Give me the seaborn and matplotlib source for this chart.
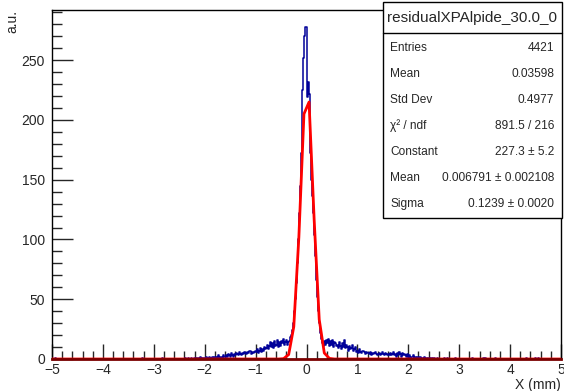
import numpy as np
import pandas as pd
import matplotlib
matplotlib.use("Agg")
import matplotlib.pyplot as plt
import seaborn as sns
from matplotlib.patches import Rectangle
from matplotlib.ticker import MultipleLocator

# histogram: 500 bins over [-5, 5]; explicit counts for -2.40 .. 2.60
start = -2.40
left_tail = [0, 1, 0, 0, 1, 0, 0, 1, 0, 1,
             1, 0, 1, 1, 0, 2, 1, 0, 1, 1,
             1, 2, 1, 0, 2, 1, 1, 2, 1, 2,
             2, 1, 2, 3, 1, 2, 2, 1, 3, 2,
             2, 3, 2, 4, 3, 2, 5, 3, 2, 4,
             3, 5, 4, 3, 6, 4, 3, 5, 4, 6,
             5, 4, 6, 5, 7, 4, 6, 5, 6, 7,
             6, 8, 5, 7, 9, 6, 8, 7, 10, 8,
             9, 12, 8, 11, 14, 10, 13, 9, 15, 11,
             12, 16, 10, 14, 11, 15, 13, 17, 12, 14]
core = [16, 12, 14, 15, 18, 20, 24, 30, 40, 50,
        64, 80, 100, 122, 145, 172, 225, 252, 270, 278,
        219, 232, 222, 172, 150, 136, 122, 104, 86, 66,
        52, 40, 30, 22, 17, 13, 11, 15, 12, 16]
right_tail = [13, 17, 11, 15, 12, 16, 10, 14, 13, 11,
              12, 9, 14, 11, 8, 13, 10, 16, 9, 12,
              10, 7, 11, 8, 9, 12, 7, 8, 10, 6,
              7, 5, 8, 6, 5, 7, 6, 4, 6, 5,
              5, 4, 6, 3, 5, 4, 5, 6, 4, 3,
              4, 5, 3, 4, 6, 4, 3, 5, 4, 3,
              4, 3, 5, 3, 4, 6, 3, 4, 2, 5,
              3, 6, 4, 2, 5, 3, 4, 3, 2, 4,
              2, 3, 1, 2, 2, 3, 1, 2, 1, 2,
              1, 2, 1, 1, 0, 2, 1, 1, 0, 1,
              1, 0, 1, 0, 1, 1, 0, 0, 1, 0]
# single entries far out in the tails (bin centres)
lone_entries = [-4.93, -3.23, -2.83, 2.71, 2.77, 2.93, 3.27, 3.47, 3.51,
                3.71, 4.33, 4.49, 4.55]

# gaussian fit as drawn (polyline vertices)
fit_x = [-5.0, -0.55, -0.45, -0.35, -0.25, -0.15, -0.05, 0.05, 0.15, 0.25,
         0.35, 0.45, 0.55, 5.0]
fit_y = [0.0, 0.0, 0.3, 3.7, 27.0, 102.0, 205.0, 215.0, 117.0, 33.0,
         5.0, 0.5, 0.0, 0.0]

stats_title = "residualXPAlpide_30.0_0"
stats_names = ["Entries", "Mean", "Std Dev", "\u03c7\u00b2 / ndf", "Constant",
               "Mean", "Sigma"]
stats_values = ["4421", "0.03598", "0.4977", "891.5 / 216", "227.3 \u00b1 5.2",
                "0.006791 \u00b1 0.002108", "0.1239 \u00b1 0.0020"]

edges = np.linspace(-5, 5, 501)
centers = (edges[:-1] + edges[1:]) / 2
counts = np.zeros(len(centers))
central = left_tail + core + right_tail
i0 = int(round((start + 5) / 0.02))
counts[i0:i0 + len(central)] = central
for c in lone_entries:
    counts[np.argmin(np.abs(centers - c))] += 1
df = pd.DataFrame({"x": centers, "n": counts})

sns.set_style("white")
plt.rcParams["font.family"] = ["Liberation Sans", "DejaVu Sans"]

fig = plt.figure(figsize=(5.64, 3.91), dpi=100)
ax = fig.add_axes([52 / 564, 32 / 391, 509 / 564, 349 / 391])

sns.histplot(data=df, x="x", weights="n", binwidth=0.02, binrange=(-5, 5),
             element="step", fill=False, color="#000099", linewidth=1.1, ax=ax)
sns.lineplot(x=fit_x, y=fit_y, color="red", linewidth=2.0, sort=False,
             ax=ax, zorder=3)

ax.set_xlim(-5, 5)
ax.set_ylim(0, 292)
ax.xaxis.set_major_locator(MultipleLocator(1))
ax.xaxis.set_minor_locator(MultipleLocator(0.2))
ax.yaxis.set_major_locator(MultipleLocator(50))
ax.yaxis.set_minor_locator(MultipleLocator(10))
ax.tick_params(axis="x", which="major", direction="in", length=11, width=1,
               labelsize=10, pad=3, top=False, bottom=True)
ax.tick_params(axis="x", which="minor", direction="in", length=6, width=1,
               top=False, bottom=True)
ax.tick_params(axis="y", which="major", direction="in", length=15, width=1,
               labelsize=10, pad=5, right=False, left=True)
ax.tick_params(axis="y", which="minor", direction="in", length=7, width=1,
               right=False, left=True)
for s in ax.spines.values():
    s.set_color("black")
    s.set_linewidth(1)
ax.spines["bottom"].set_color("#7a0000")
ax.spines["bottom"].set_linewidth(2)
ax.spines["bottom"].set_zorder(4)

ax.set_xlabel("X (mm)", fontsize=10, loc="right")
ax.xaxis.set_label_coords(1.0, -0.055)
ax.set_ylabel("a.u.", fontsize=10, loc="top")
ax.yaxis.set_label_coords(-0.064, 1.0)

# stats box
x0, x1 = 382.5 / 564, 562 / 564
y_top, y_bot = 1 - 2 / 391, 1 - 218 / 391
fig.patches.append(Rectangle((x0, y_bot), x1 - x0, y_top - y_bot,
                             transform=fig.transFigure, facecolor="white",
                             edgecolor="black", linewidth=1, zorder=5))
ysep = 1 - 33 / 391
fig.lines.append(plt.Line2D([x0, x1], [ysep, ysep], transform=fig.transFigure,
                            color="black", linewidth=1, zorder=6))
fig.text((x0 + x1) / 2, 1 - 18 / 391, stats_title, ha="center", va="center",
         fontsize=11, zorder=7)
row_y = [48, 74, 100, 126, 152, 178, 204]
for name, val, yy in zip(stats_names, stats_values, row_y):
    fig.text(390 / 564, 1 - yy / 391, name, ha="left", va="center",
             fontsize=8.6, zorder=7)
    fig.text(554 / 564, 1 - yy / 391, val, ha="right", va="center",
             fontsize=8.6, zorder=7)

fig.savefig("out.png", dpi=100)
